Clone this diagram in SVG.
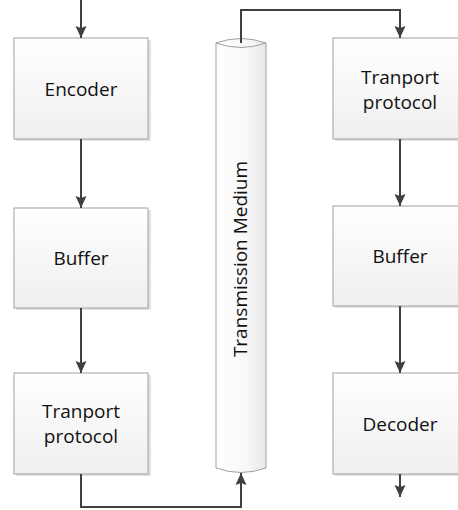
<svg xmlns="http://www.w3.org/2000/svg" width="458" height="510" viewBox="0 0 458 510">
<defs>
<linearGradient id="g" x1="0" y1="0" x2="0" y2="1">
<stop offset="0" stop-color="#ffffff"/>
<stop offset="1" stop-color="#efefef"/>
</linearGradient>
<linearGradient id="cg" x1="0" y1="0" x2="1" y2="0">
<stop offset="0" stop-color="#ffffff"/>
<stop offset="0.6" stop-color="#f8f8f8"/>
<stop offset="1" stop-color="#e8e8e8"/>
</linearGradient>
<marker id="ah" markerWidth="12" markerHeight="12" viewBox="0 0 12 12" refX="12" refY="6" orient="auto" markerUnits="userSpaceOnUse">
<path d="M0,0.5 L12,6 L0,11.5 L2,6 Z" fill="#404040"/>
</marker>
</defs>
<style>
.box{fill:url(#g);stroke:#a0a0a0;stroke-width:1}
.sh{fill:#e2e2e2}
.t{font-family:"Open Sans","Liberation Sans",sans-serif;font-size:19px;fill:#111;text-anchor:middle}
.c{fill:none;stroke:#404040;stroke-width:2;marker-end:url(#ah)}
</style>
<rect width="458" height="510" fill="#fff"/>
<g id="encoder"><rect class="sh" x="16" y="40" width="135" height="101"/><rect class="box" x="14" y="38" width="134" height="101"/><text class="t" x="81" y="96">Encoder</text></g>
<g id="buffer-left"><rect class="sh" x="16" y="210" width="135" height="100"/><rect class="box" x="14" y="208" width="134" height="100"/><text class="t" x="81" y="265">Buffer</text></g>
<g id="transport-left"><rect class="sh" x="16" y="375" width="135" height="101"/><rect class="box" x="14" y="373" width="134" height="101"/><text class="t" x="81" y="418">Tranport</text><text class="t" x="81" y="443">protocol</text></g>
<g id="medium">
<path d="M216,43 L216,468 Q241,477 266,468 L266,43 Q241,34 216,43 Z" fill="url(#cg)" stroke="#a0a0a0" stroke-width="1"/>
<path d="M216,43 Q241,52 266,43" fill="none" stroke="#a0a0a0" stroke-width="1"/>
<text class="t" transform="translate(247,259) rotate(-90)">Transmission Medium</text>
</g>
<g id="transport-right"><rect class="sh" x="335" y="40" width="135" height="101"/><rect class="box" x="333" y="38" width="134" height="101"/><text class="t" x="400" y="84">Tranport</text><text class="t" x="400" y="109">protocol</text></g>
<g id="buffer-right"><rect class="sh" x="335" y="208" width="135" height="100"/><rect class="box" x="333" y="206" width="134" height="100"/><text class="t" x="400" y="263">Buffer</text></g>
<g id="decoder"><rect class="sh" x="335" y="375" width="135" height="101"/><rect class="box" x="333" y="373" width="134" height="101"/><text class="t" x="400" y="431">Decoder</text></g>
<g id="connectors">
<path class="c" d="M81,0 L81,38"/>
<path class="c" d="M81,139 L81,208"/>
<path class="c" d="M81,308 L81,373"/>
<path class="c" d="M81,474 L81,507 L241,507 L241,473"/>
<path class="c" d="M241,43 L241,10 L400,10 L400,38"/>
<path class="c" d="M400,139 L400,206"/>
<path class="c" d="M400,306 L400,373"/>
<path class="c" d="M400,474 L400,497"/>
</g>
</svg>
